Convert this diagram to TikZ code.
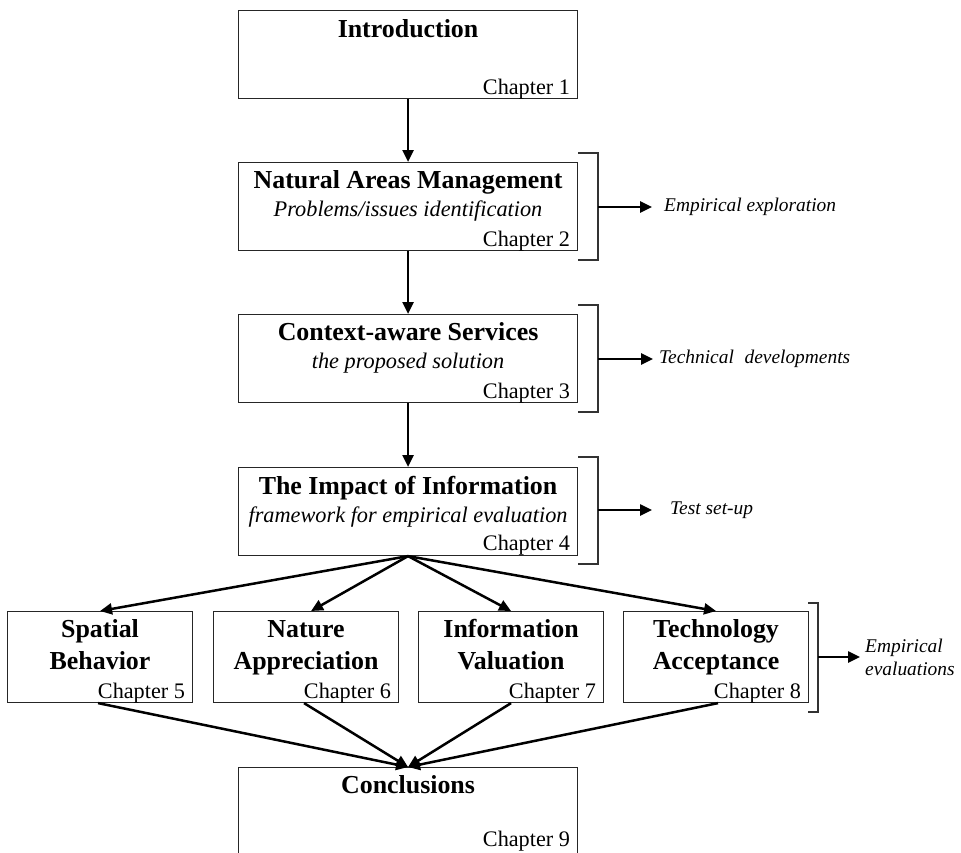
\documentclass[tikz,border=0pt]{standalone}
\usepackage{fontspec}
\setmainfont{Liberation Serif}
\usetikzlibrary{arrows.meta}
\begin{document}
\begin{tikzpicture}[x=1pt,y=-1pt,
  box/.style={draw=black!85, line width=1.1pt, inner sep=0pt, anchor=north west},
  ttl/.style={font=\fontsize{25.9}{30}\selectfont\bfseries, inner sep=0pt, anchor=base},
  sub/.style={font=\fontsize{22.3}{26}\selectfont\itshape, inner sep=0pt, anchor=base},
  chap/.style={font=\fontsize{22.2}{26}\selectfont, inner sep=0pt, anchor=base east},
  side/.style={font=\fontsize{19.4}{23}\selectfont\itshape, inner sep=0pt, anchor=west, align=left},
  arr/.style={line width=2.5pt, -{Triangle[length=12pt,width=11pt]}},
  brk/.style={draw=black!80, line width=1.1pt}
]
\useasboundingbox (0,0) rectangle (961,852);

% main column boxes
\node[box, minimum width=339pt, minimum height=88pt] (intro) at (238,10) {};
\node[box, minimum width=339pt, minimum height=88pt] (nam) at (238,162) {};
\node[box, minimum width=339pt, minimum height=88pt] (cas) at (238,314) {};
\node[box, minimum width=339pt, minimum height=88pt] (imp) at (238,467) {};
\node[box, minimum width=339pt, minimum height=92pt] (conc) at (238,767) {};

% bottom row boxes
\node[box, minimum width=185pt, minimum height=91pt] (sb) at (7,611) {};
\node[box, minimum width=185pt, minimum height=91pt] (na) at (213,611) {};
\node[box, minimum width=185pt, minimum height=91pt] (iv) at (418,611) {};
\node[box, minimum width=185pt, minimum height=91pt] (ta) at (623,611) {};

% texts
\node[ttl] (t1) at ([yshift=-27pt]intro.north) {Introduction};
\node[chap] (c1) at ([xshift=-8pt,yshift=5pt]intro.south east) {Chapter 1};

\node[ttl] (t2) at ([yshift=-26pt]nam.north) {Natural Areas Management};
\node[sub] (s2) at ([yshift=-54pt]nam.north) {Problems/issues identification};
\node[chap] (c2) at ([xshift=-8pt,yshift=5pt]nam.south east) {Chapter 2};

\node[ttl] (t3) at ([yshift=-26pt]cas.north) {Context-aware Services};
\node[sub] (s3) at ([yshift=-54pt]cas.north) {the proposed solution};
\node[chap] (c3) at ([xshift=-8pt,yshift=5pt]cas.south east) {Chapter 3};

\node[ttl] (t4) at ([yshift=-27pt]imp.north) {The Impact of Information};
\node[sub] (s4) at ([yshift=-55pt]imp.north) {framework for empirical evaluation};
\node[chap] (c4) at ([xshift=-8pt,yshift=6pt]imp.south east) {Chapter 4};

\node[ttl] (t5a) at ([yshift=-26pt]sb.north) {Spatial};
\node[ttl] (t5b) at ([yshift=-58pt]sb.north) {Behavior};
\node[chap] (c5) at ([xshift=-8pt,yshift=5pt]sb.south east) {Chapter 5};

\node[ttl] (t6a) at ([yshift=-26pt]na.north) {Nature};
\node[ttl] (t6b) at ([yshift=-58pt]na.north) {Appreciation};
\node[chap] (c6) at ([xshift=-8pt,yshift=5pt]na.south east) {Chapter 6};

\node[ttl] (t7a) at ([yshift=-26pt]iv.north) {Information};
\node[ttl] (t7b) at ([yshift=-58pt]iv.north) {Valuation};
\node[chap] (c7) at ([xshift=-8pt,yshift=5pt]iv.south east) {Chapter 7};

\node[ttl] (t8a) at ([yshift=-26pt]ta.north) {Technology};
\node[ttl] (t8b) at ([yshift=-58pt]ta.north) {Acceptance};
\node[chap] (c8) at ([xshift=-8pt,yshift=5pt]ta.south east) {Chapter 8};

\node[ttl] (t9) at ([yshift=-26pt]conc.north) {Conclusions};
\node[chap] (c9) at ([xshift=-8pt,yshift=14pt]conc.south east) {Chapter 9};

% vertical arrows
\draw[arr] (intro.south) -- (nam.north);
\draw[arr] (nam.south) -- (cas.north);
\draw[arr] (cas.south) -- (imp.north);

% fan out
\draw[arr] (imp.south) -- (sb.north);
\draw[arr] (imp.south) -- ([xshift=5pt]na.north);
\draw[arr] (imp.south) -- (iv.north);
\draw[arr] (imp.south) -- (ta.north);

% fan in
\draw[arr] ([xshift=-2pt]sb.south) -- (conc.north);
\draw[arr] ([xshift=-2pt]na.south) -- (conc.north);
\draw[arr] (iv.south) -- (conc.north);
\draw[arr] ([xshift=2pt]ta.south) -- (conc.north);

% brackets
\coordinate (b2a) at (578,153); \coordinate (b2b) at (598,153);
\coordinate (b2c) at (598,260); \coordinate (b2d) at (578,260);
\draw[brk] (b2a) -- (b2b) -- (b2c) -- (b2d);
\coordinate (b3a) at (578,305); \coordinate (b3b) at (598,305);
\coordinate (b3c) at (598,412); \coordinate (b3d) at (578,412);
\draw[brk] (b3a) -- (b3b) -- (b3c) -- (b3d);
\coordinate (b4a) at (578,457); \coordinate (b4b) at (598,457);
\coordinate (b4c) at (598,564); \coordinate (b4d) at (578,564);
\draw[brk] (b4a) -- (b4b) -- (b4c) -- (b4d);
\coordinate (b8a) at (808,603); \coordinate (b8b) at (818,603);
\coordinate (b8c) at (818,712); \coordinate (b8d) at (808,712);
\draw[brk] (b8a) -- (b8b) -- (b8c) -- (b8d);

% side labels
\node[side] (l2) at (664,207) {Empirical exploration};
\node[side] (l3) at (659,359) {Technical\hspace{0.55em}developments};
\node[side] (l4) at (670,510) {Test set-up};
\node[side] (l8) at (865,657) {Empirical\\evaluations};

\coordinate (a2) at (598,207);
\coordinate (a3) at (598,359);
\coordinate (a4) at (598,510);
\coordinate (a8) at (818,657);
\draw[arr] (a2) -- ([xshift=-12pt]l2.west);
\draw[arr] (a3) -- ([xshift=-6pt]l3.west);
\draw[arr] (a4) -- ([xshift=-18pt]l4.west);
\draw[arr] (a8) -- ([xshift=-5pt]l8.west);
\end{tikzpicture}
\end{document}
